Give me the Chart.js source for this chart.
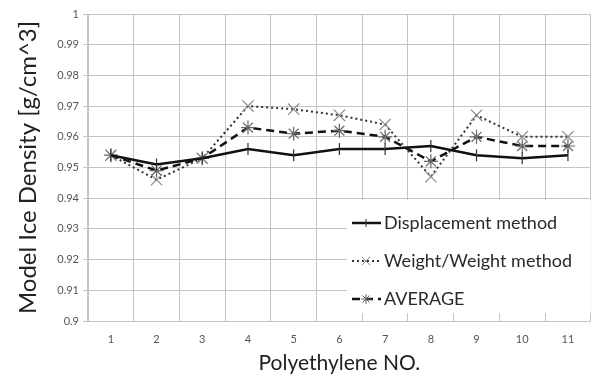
<!DOCTYPE html>
<html>
<head>
<meta charset="utf-8">
<script src="https://cdn.jsdelivr.net/npm/chart.js@4.4.1/dist/chart.umd.min.js"></script>
<style>
  html, body { margin: 0; padding: 0; background: #fff; }
  #wrap { width: 600px; height: 378px; position: relative; }
</style>
</head>
<body>
<div id="wrap"><canvas id="chart"></canvas></div>
<script>
// polyethylene sample numbers
const sampleLabels = ['1', '2', '3', '4', '5', '6', '7', '8', '9', '10', '11'];
// densities [g/cm^3]
const displacementValues = [0.954, 0.951, 0.953, 0.956, 0.954, 0.956, 0.956, 0.957, 0.954, 0.953, 0.954];
const weightValues = [0.954, 0.946, 0.953, 0.970, 0.969, 0.967, 0.964, 0.947, 0.967, 0.960, 0.960];
const averageValues = [0.954, 0.949, 0.953, 0.963, 0.961, 0.962, 0.960, 0.952, 0.960, 0.957, 0.957];
const yTicks = [0.9, 0.91, 0.92, 0.93, 0.94, 0.95, 0.96, 0.97, 0.98, 0.99, 1];

const FONT = 'Lato, "Open Sans", sans-serif';
const GRID = '#c4c4c4';

// legend drawn inside the plot, bottom right, like the excel one
const insideLegend = {
  id: 'insideLegend',
  afterDraw(chart) {
    const ctx = chart.ctx;
    const area = chart.chartArea;
    const boxLeft = 347;
    const boxTop = 200;
    ctx.save();
    ctx.fillStyle = '#fff';
    ctx.fillRect(boxLeft, boxTop, area.right - boxLeft, area.bottom - 8 - boxTop);

    const rows = [223, 261, 299];
    chart.data.datasets.forEach((ds, i) => {
      const y = rows[i];
      ctx.save();
      ctx.strokeStyle = ds.borderColor;
      ctx.lineWidth = ds.borderWidth;
      ctx.setLineDash(ds.borderDash || []);
      ctx.beginPath();
      ctx.moveTo(352, y);
      ctx.lineTo(381, y);
      ctx.stroke();
      ctx.restore();
      ctx.save();
      ctx.strokeStyle = ds.pointBorderColor;
      Chart.helpers.drawPoint(ctx, {
        pointStyle: ds.pointStyle,
        rotation: ds.pointRotation || 0,
        radius: ds.pointRadius - 2,
        borderWidth: ds.pointBorderWidth
      }, 366, y);
      ctx.restore();
      ctx.fillStyle = '#2a2a2a';
      ctx.font = '18px ' + FONT;
      ctx.textBaseline = 'middle';
      ctx.fillText(ds.label, 384, y);
    });
    ctx.restore();
  }
};

new Chart(document.getElementById('chart'), {
  type: 'line',
  data: {
    labels: sampleLabels,
    datasets: [
      {
        label: 'Displacement method',
        data: displacementValues,
        borderColor: '#111',
        borderWidth: 2.5,
        pointStyle: 'line',
        pointRotation: 90,
        pointRadius: 6,
        pointBorderColor: '#333',
        pointBorderWidth: 1.2,
        pointBackgroundColor: '#333'
      },
      {
        label: 'Weight/Weight method',
        data: weightValues,
        borderColor: '#333',
        borderWidth: 2,
        borderDash: [2, 3],
        pointStyle: 'crossRot',
        pointRadius: 8,
        pointBorderColor: '#8a8a8a',
        pointBorderWidth: 1.2,
        pointBackgroundColor: '#8a8a8a'
      },
      {
        label: 'AVERAGE',
        data: averageValues,
        borderColor: '#111',
        borderWidth: 2.5,
        borderDash: [8, 5],
        pointStyle: 'star',
        pointRadius: 7,
        pointBorderColor: '#666',
        pointBorderWidth: 1.2,
        pointBackgroundColor: '#666'
      }
    ]
  },
  options: {
    responsive: true,
    maintainAspectRatio: false,
    animation: false,
    layout: { padding: { left: 12, top: 14, right: 0, bottom: 2 } },
    plugins: {
      legend: { display: false },
      tooltip: { enabled: false }
    },
    scales: {
      x: {
        offset: true,
        grid: { offset: true, color: GRID, tickLength: 0, drawTicks: false },
        border: { color: GRID },
        ticks: { color: '#555', font: { family: FONT, size: 11 }, padding: 12, maxRotation: 0 },
        title: {
          display: true,
          text: 'Polyethylene NO.',
          color: '#222',
          font: { family: FONT, size: 21 },
          padding: { top: 2, bottom: 0 }
        },
        afterFit(scale) { scale.height = 55; }
      },
      y: {
        min: 0.9,
        max: 1,
        afterBuildTicks(scale) { scale.ticks = yTicks.map(v => ({ value: v })); },
        grid: { color: GRID, tickLength: 5 },
        border: { color: GRID },
        ticks: {
          color: '#555',
          font: { family: FONT, size: 11 },
          padding: 4,
          callback: v => String(+v.toFixed(2))
        },
        title: {
          display: true,
          text: 'Model Ice Density [g/cm^3]',
          color: '#222',
          font: { family: FONT, size: 24 },
          padding: { top: 2, bottom: 0 }
        },
        afterFit(scale) { scale.width = 76; }
      }
    }
  },
  plugins: [insideLegend]
});
</script>
</body>
</html>
